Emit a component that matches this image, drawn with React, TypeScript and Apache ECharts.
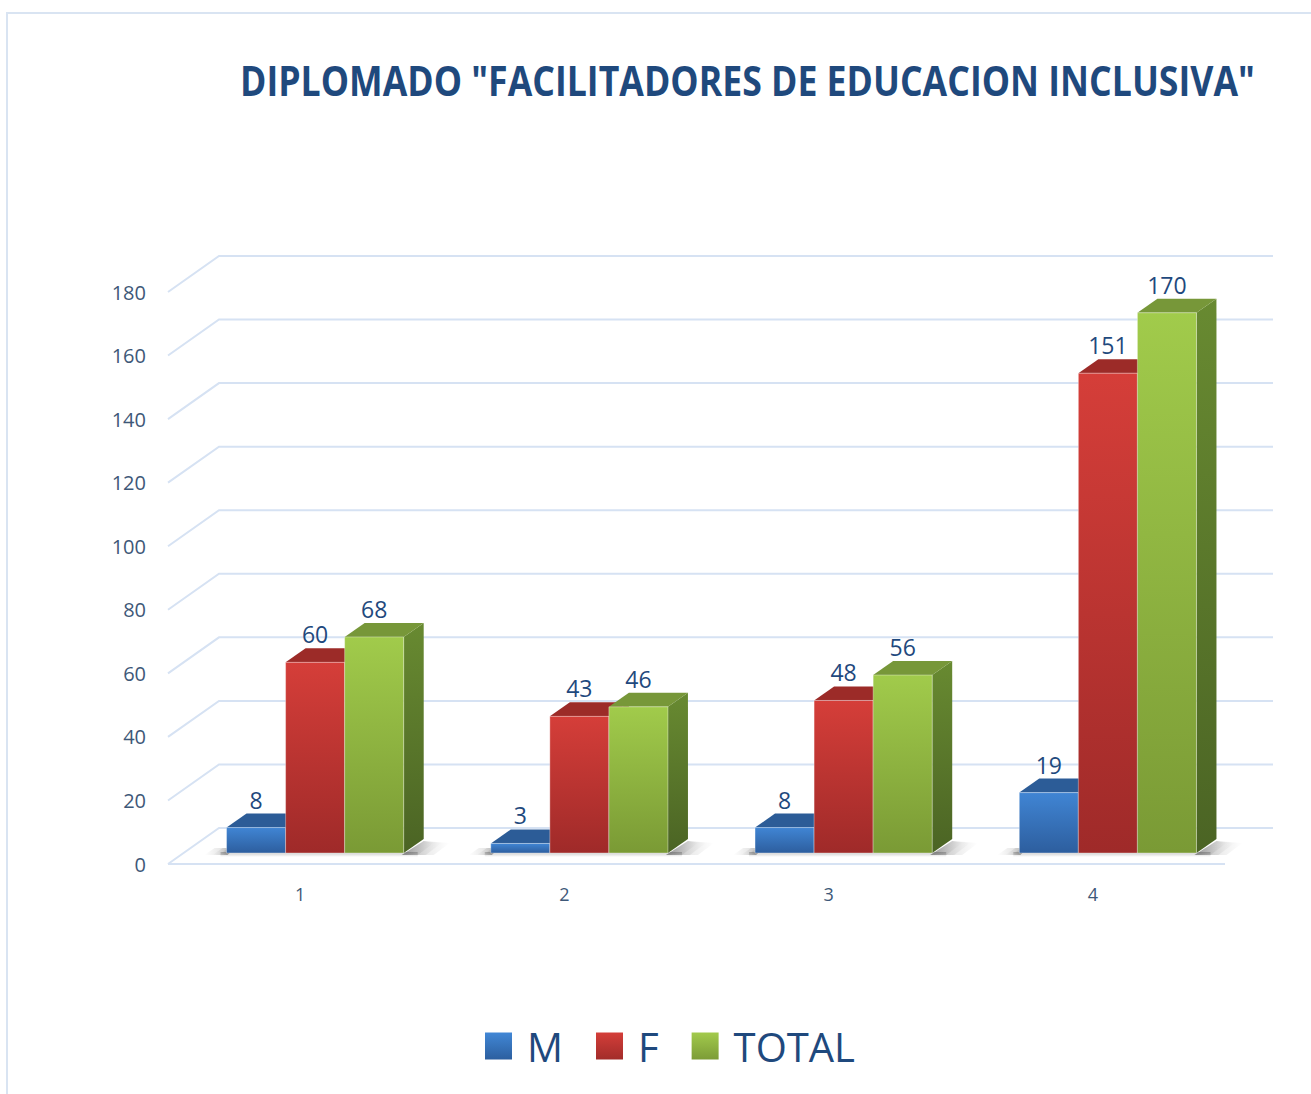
import React, { useEffect, useRef } from "react";
import * as echarts from "echarts";

const categories = ["1", "2", "3", "4"];
const seriesNames = ["M", "F", "TOTAL"];
const mValues = [8, 3, 8, 19];
const fValues = [60, 43, 48, 151];
const totalValues = [68, 46, 56, 170];
const yTicks = [0, 20, 40, 60, 80, 100, 120, 140, 160, 180];
const titleText = 'DIPLOMADO "FACILITADORES DE EDUCACION INCLUSIVA"';

const FONT = '"Open Sans", "Noto Sans", sans-serif';
const WX = 51, WY = -36;
const FX = 15, FY = -11;
const BX = 20, BY = -14;
const BAR_FRAC = 0.2235;

const lg = (a: string, b: string) => ({
  type: "linear", x: 0, y: 0, x2: 0, y2: 1,
  colorStops: [{ offset: 0, color: a }, { offset: 1, color: b }],
});
const hg = (a: string, b: string) => ({
  type: "linear", x: 0, y: 0, x2: 1, y2: 0,
  colorStops: [{ offset: 0, color: a }, { offset: 1, color: b }],
});

const palette = [
  { front: ["#4085d4", "#2d5e9e"], top: "#2c5c97", side: ["#28548c", "#1f4577"], legend: ["#4187d6", "#2c5f9f"] },
  { front: ["#d53e39", "#9f2a29"], top: "#9c2b28", side: ["#8c2725", "#6e1e1d"], legend: ["#d43e39", "#a22c2a"] },
  { front: ["#a1cb4b", "#7a9a35"], top: "#779739", side: ["#688a31", "#4b6424"], legend: ["#a2ca4c", "#7c9c37"] },
];

export default function App() {
  const ref = useRef<HTMLDivElement>(null);
  useEffect(() => {
    if (!ref.current) return;
    const chart = echarts.init(ref.current, null, { renderer: "svg" });

    let titleScale = 1;
    try {
      const c = document.createElement("canvas").getContext("2d");
      if (c) {
        c.font = 'bold 42px "Open Sans"';
        const w = c.measureText(titleText).width;
        if (w > 0) titleScale = 1015 / w;
      }
    } catch (e) {}

    const valuesList = [mValues, fValues, totalValues];

    const barSeries = valuesList.map((vals, k) => ({
      type: "custom",
      name: seriesNames[k],
      z: 5 + k,
      itemStyle: { color: lg(palette[k].legend[0], palette[k].legend[1]) },
      data: vals.map((v, i) => [i, v]),
      renderItem: (params: any, api: any) => {
        const cat = api.value(0);
        const v = api.value(1);
        const band = api.size([1, 0])[0];
        const base = api.coord([cat, 0]);
        const top = api.coord([cat, v]);
        const bw = band * BAR_FRAC;
        const x0 = base[0] - 1.5 * bw + k * bw + FX;
        const x1 = x0 + bw;
        const yb = base[1] + FY;
        const yt = top[1] + FY;
        const p = palette[k];
        return {
          type: "group",
          children: [
            {
              type: "polygon",
              shape: { points: [[x1, yt], [x1 + BX, yt + BY], [x1 + BX, yb + BY], [x1, yb]] },
              style: { fill: lg(p.side[0], p.side[1]) },
            },
            {
              type: "polygon",
              shape: { points: [[x0, yt], [x1, yt], [x1 + BX, yt + BY], [x0 + BX, yt + BY]] },
              style: { fill: p.top },
            },
            {
              type: "rect",
              shape: { x: x0, y: yt, width: bw, height: yb - yt },
              style: { fill: lg(p.front[0], p.front[1]), stroke: "rgba(255,255,255,0.35)", lineWidth: 1 },
            },
            {
              type: "text",
              x: (x0 + x1) / 2,
              y: yt + BY - 14,
              style: {
                text: String(v),
                fill: "#1f497d",
                font: `23px ${FONT}`,
                align: "center",
                verticalAlign: "middle",
              },
            },
          ],
        };
      },
    }));

    const shadowSeries = {
      type: "custom",
      name: "shadow",
      z: 3,
      silent: true,
      data: categories.map((c, i) => [i, 0]),
      renderItem: (params: any, api: any) => {
        const cat = api.value(0);
        const band = api.size([1, 0])[0];
        const base = api.coord([cat, 0]);
        const bw = band * BAR_FRAC;
        const gx0 = base[0] - 1.5 * bw + FX;
        const gx1 = gx0 + 3 * bw;
        const yb = base[1] + FY;
        const children: any[] = [];
        // right soft shadow, layered for softness
        [30, 22, 14].forEach((w, i) => {
          children.push({
            type: "polygon",
            shape: {
              points: [[gx1 - 2, yb + 2], [gx1 + w, yb + 2], [gx1 + BX + w - 4, yb + BY + 4], [gx1 + BX, yb + BY + 2]],
            },
            style: { fill: hg("rgba(0,0,0,0.16)", "rgba(0,0,0,0)") },
          });
        });
        // left soft shadow
        [22, 14, 8].forEach((w) => {
          children.push({
            type: "polygon",
            shape: {
              points: [[gx0 - w, yb + 2], [gx0 + 1, yb + 2], [gx0 + 8, yb - 5], [gx0 - w + 10, yb - 5]],
            },
            style: { fill: hg("rgba(0,0,0,0)", "rgba(0,0,0,0.18)") },
          });
        });
        // under-edge shadow
        children.push({
          type: "rect",
          shape: { x: gx0 - 6, y: yb - 1, width: gx1 - gx0 + 20, height: 5 },
          style: { fill: lg("rgba(0,0,0,0.22)", "rgba(0,0,0,0)") },
        });
        return { type: "group", children };
      },
    };

    const wallSeries = {
      type: "custom",
      name: "walls",
      z: 1,
      silent: true,
      data: yTicks.map((t) => [0, t]),
      renderItem: (params: any, api: any) => {
        const t = api.value(1);
        const band = api.size([1, 0])[0];
        const left = api.coord([0, t])[0] - band / 2;
        const right = api.coord([categories.length - 1, t])[0] + band / 2;
        const y = api.coord([0, t])[1];
        const children: any[] = [
          {
            type: "polyline",
            shape: { points: [[left, y], [left + WX, y + WY], [right + WX - 3, y + WY]] },
            style: { stroke: "#d6e2f3", lineWidth: 2, fill: "none" },
          },
        ];
        if (t === 0) {
          children.push({
            type: "line",
            shape: { x1: left, y1: y, x2: right, y2: y },
            style: { stroke: "#d6e2f3", lineWidth: 2 },
          });
        }
        return { type: "group", children };
      },
    };

    chart.setOption({
      animation: false,
      backgroundColor: "#ffffff",
      grid: { left: 168, right: 86, top: 292, bottom: 1094 - 864, containLabel: false },
      xAxis: {
        type: "category",
        data: categories,
        axisLine: { show: false },
        axisTick: { show: false },
        axisLabel: { color: "#3e5878", fontSize: 18, fontFamily: FONT, margin: 21 },
      },
      yAxis: {
        type: "value",
        min: 0,
        max: 180,
        interval: 20,
        axisLine: { show: false },
        axisTick: { show: false },
        splitLine: { show: false },
        axisLabel: { color: "#3e5878", fontSize: 20, fontFamily: FONT, margin: 22 },
      },
      legend: {
        data: seriesNames.map((n, k) => ({
          name: n,
          icon: "rect",
          itemStyle: { color: lg(palette[k].legend[0], palette[k].legend[1]) },
        })),
        left: 485,
        top: 1026,
        padding: 0,
        itemWidth: 27,
        itemHeight: 27,
        itemGap: 33,
        textStyle: { fontSize: 40, color: "#1f497d", fontFamily: FONT, padding: [0, 0, 0, 10] },
      },
      graphic: [
        {
          type: "rect",
          shape: { x: 7, y: 13, width: 1400, height: 1200 },
          style: { fill: "none", stroke: "#d9e4f2", lineWidth: 2 },
          silent: true,
        },
        {
          type: "text",
          x: 240,
          y: 79,
          scaleX: titleScale,
          style: {
            text: titleText,
            font: `bold 42px ${FONT}`,
            fill: "#1f497d",
            align: "left",
            verticalAlign: "middle",
          },
        },
      ],
      series: [wallSeries, shadowSeries, ...barSeries],
    });
    return () => chart.dispose();
  }, []);
  return (
    <div
      ref={ref}
      style={{ position: "fixed", left: 0, top: 0, width: 1311, height: 1094 }}
    />
  );
}
